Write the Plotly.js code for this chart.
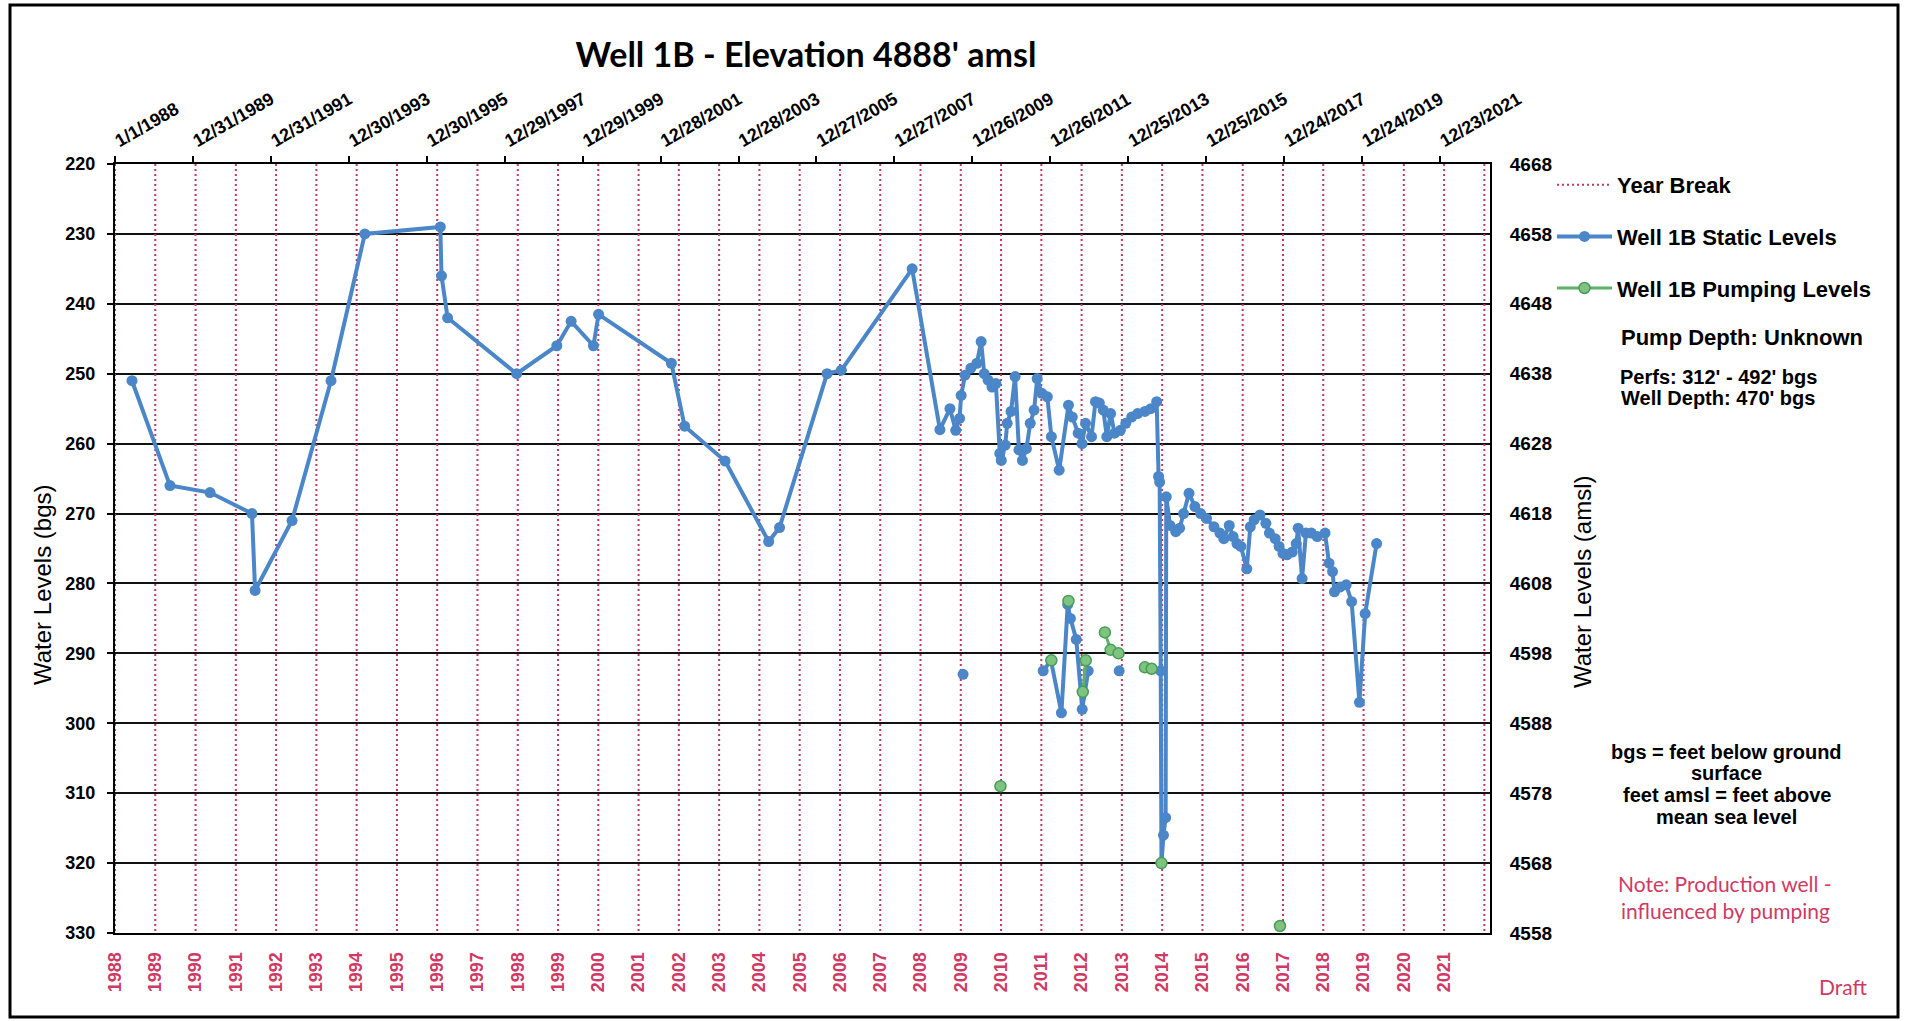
<!DOCTYPE html>
<html><head><meta charset="utf-8">
<script src="https://cdn.plot.ly/plotly-3.0.1.min.js"></script>
<style>html,body{margin:0;padding:0;background:#fff}#chart{width:1907px;height:1021px}</style>
</head><body><div id="chart"></div>
<script>
// ---------------- data ----------------
const wellElevation = 4888;            // ft amsl
const depthRange = [330, 220];         // ft bgs (bottom, top)
const yearBreaks = [1988,1989,1990,1991,1992,1993,1994,1995,1996,1997,1998,1999,2000,2001,2002,2003,2004,2005,2006,2007,2008,2009,2010,2011,2012,2013,2014,2015,2016,2017,2018,2019,2020,2021,2022];
const yearLabels = [1988,1989,1990,1991,1992,1993,1994,1995,1996,1997,1998,1999,2000,2001,2002,2003,2004,2005,2006,2007,2008,2009,2010,2011,2012,2013,2014,2015,2016,2017,2018,2019,2020,2021];

const staticDates = [
 '1988-06-08','1989-05-30','1990-06-09','1991-07-07','1991-08-05','1992-07-16','1993-07-16','1994-05-29',
 '1996-05-05','1996-05-16','1996-07-12','1998-04-20','1999-05-01','1999-09-12','2000-04-08','2000-05-26',
 '2002-04-08','2002-08-10','2003-08-24','2004-10-05','2005-01-15','2006-04-05','2006-08-17','2008-06-10',
 '2009-02-25',
 '2009-05-30','2009-07-23','2009-08-28','2009-09-12','2009-10-18','2009-12-12','2010-02-06','2010-03-18',
 '2010-04-16','2010-05-22','2010-06-28','2010-08-03','2010-09-09','2010-09-23','2010-10-30','2010-11-17',
 '2010-12-23','2011-01-30','2011-03-07','2011-04-09','2011-05-16','2011-06-21','2011-07-27','2011-08-25',
 '2011-10-08','2011-11-28','2012-01-05','2012-03-18','2012-06-13','2012-07-19','2012-09-12','2012-10-18',
 '2012-11-20','2013-01-15','2013-02-21','2013-03-29','2013-05-05','2013-06-07','2013-07-13','2013-08-19',
 '2013-10-12','2013-12-02','2014-01-26','2014-03-22','2014-05-30','2014-07-24','2014-09-17','2014-10-05',
 '2014-10-15','2014-10-25','2014-11-01','2014-11-20','2014-12-10','2014-12-16','2015-01-20','2015-03-15',
 '2015-04-20','2015-05-27','2015-07-17','2015-09-10','2015-11-03','2015-12-28','2016-03-07','2016-05-01',
 '2016-06-07','2016-07-28','2016-09-02','2016-10-08','2016-11-14','2017-01-08','2017-02-10','2017-03-18',
 '2017-05-12','2017-07-06','2017-08-08','2017-10-01','2017-11-07','2017-12-13','2018-01-19','2018-03-10',
 '2018-04-16','2018-05-04','2018-06-10','2018-07-16','2018-09-05','2018-10-30','2019-01-11','2019-02-17',
 '2019-03-22','2019-04-09','2019-06-03','2019-07-28','2019-09-17','2019-11-29','2020-01-22','2020-05-08',
 null,
 '2009-09-30',
 null,
 '2011-10-20','2012-01-01','2012-04-08','2012-06-06','2012-07-01','2012-08-25','2012-10-20','2012-12-15',
 null,
 '2013-10-01'
];
const staticLevels = [
 251,266,267,270,281,271,251,230,
 229,236,242,250,246,242.5,246,241.5,
 248.5,257.5,262.5,274,272,250,249.5,235,
 258,
 255,258.1,256.4,253.1,250.2,249.2,248.5,245.4,
 250,250.9,251.9,251.4,261.4,262.4,260.2,257.1,
 255.4,250.4,260.9,262.4,260.7,257.1,255.2,250.7,
 252.8,253.3,259,263.8,254.5,256.2,258.5,260,
 257.1,259,254,254.2,255.2,259,255.7,258.5,
 258.1,257.1,256.2,255.7,255.4,255,254,264.7,
 265.5,292.5,320,316,313.5,267.6,271.7,272.6,
 272.1,270,267.1,269,270,270.7,271.9,272.8,
 273.6,271.7,273.3,274.3,274.7,277.9,271.9,270.9,
 270.2,271.4,272.8,273.6,274.7,275.7,275.9,275.5,
 274.3,272.1,279.3,272.8,272.8,273.3,272.8,277.1,
 278.3,281.2,280.5,280.2,282.6,297,284.3,274.3,
 null,
 293,
 null,
 292.5,291,298.5,283,285,288,298,292.5,
 null,
 292.5
];

const pumpDates = [
 '2010-09-15', null, '2012-01-05', null, '2012-06-13', null, '2012-10-25','2012-11-22', null,
 '2013-05-20','2013-07-13','2013-09-25', null, '2014-05-30','2014-08-01', null, '2014-11-01', null, '2017-11-15'
];
const pumpLevels = [
 309, null, 291, null, 282.5, null, 295.5, 291, null,
 287, 289.5, 290, null, 292, 292.2, null, 320, null, 329
];

const topTickStart = '1988-01-01';
const topTickDays = 730;
const dateRange = ['1988-01-01', '2023-04-05'];
const yearRange = [1988, 2022.14];

// ---------------- layout helpers ----------------
const L = 115, R = 1490, T = 164, B = 933;
const px = x => (x - L) / (R - L);
const py = y => (B - y) / (B - T);
const ARIAL = 'Liberation Sans, Arial, sans-serif';
const CAL = 'Lato, Carlito, sans-serif';
const PINK = '#cf3a64';

const amslTop = wellElevation - depthRange[1];
const amslBottom = wellElevation - depthRange[0];

const data = [
  {
    type: 'scatter', mode: 'lines', name: 'Year Break',
    x: yearBreaks.flatMap(v => [v, v, null]),
    y: yearBreaks.flatMap(() => [amslTop, amslBottom, null]),
    xaxis: 'x', yaxis: 'y',
    line: {color: '#c0395e', width: 2, dash: '2px,3px'},
    legendgroup: 'a', hoverinfo: 'skip'
  },
  {
    type: 'scatter', mode: 'lines+markers', name: 'Well 1B Static Levels',
    x: staticDates, y: staticLevels, xaxis: 'x2', yaxis: 'y2',
    line: {color: '#4a86c8', width: 4},
    marker: {size: 11, color: '#4a86c8'},
    connectgaps: false, legendgroup: 'b'
  },
  {
    type: 'scatter', mode: 'lines+markers', name: 'Well 1B Pumping Levels',
    x: pumpDates, y: pumpLevels, xaxis: 'x2', yaxis: 'y2',
    line: {color: '#5cb366', width: 3},
    marker: {size: 11, color: '#7cc47f', line: {color: '#4a9c58', width: 1.5}},
    connectgaps: false, legendgroup: 'c'
  }
];

function ann(text, x, y, size, opts) {
  return Object.assign({
    text, x: px(x), y: py(y), xref: 'paper', yref: 'paper',
    xanchor: 'center', yanchor: 'middle', showarrow: false,
    font: {family: ARIAL, size, color: '#000', weight: 'bold'}
  }, opts || {});
}

const annotations = [
  ann('Pump Depth: Unknown', 1742, 337, 22),
  ann("Perfs: 312' - 492' bgs", 1718, 377, 20),
  ann("Well Depth: 470' bgs", 1718, 398, 20),
  ann('bgs = feet below ground', 1727, 752, 20),
  ann('surface', 1727, 773, 20),
  ann('feet amsl = feet above', 1727, 795, 20),
  ann('mean sea level', 1727, 817, 20),
  ann('Note: Production well -', 1725, 883, 21, {font: {family: CAL, size: 21, color: PINK}}),
  ann('influenced by pumping', 1725, 910, 21, {font: {family: CAL, size: 21, color: PINK}}),
  ann('Draft', 1843, 987, 21, {font: {family: CAL, size: 21, color: PINK}}),
  ann('Water Levels (bgs)', 42, 585, 24, {textangle: -90, font: {family: ARIAL, size: 24, color: '#000'}}),
  ann('Water Levels (amsl)', 1582, 582, 24, {textangle: -90, font: {family: ARIAL, size: 24, color: '#000'}})
];

const layout = {
  width: 1907, height: 1021,
  margin: {l: L, r: 1907 - R, t: T, b: 1021 - B, pad: 0},
  paper_bgcolor: '#fff', plot_bgcolor: '#fff',
  showlegend: true, hovermode: false,
  title: {
    text: "Well 1B - Elevation 4888' amsl",
    x: 806 / 1907, xref: 'container', xanchor: 'center',
    y: 1 - 55 / 1021, yref: 'container', yanchor: 'middle',
    font: {family: CAL, size: 34, color: '#000', weight: 'bold'}
  },
  // base subplot: year breaks (bottom year labels, right amsl axis)
  xaxis: {
    type: 'linear', side: 'bottom', anchor: 'y',
    range: yearRange, tickmode: 'array',
    tickvals: yearLabels, ticktext: yearLabels.map(String),
    tickangle: -90, ticks: '', ticklabelstandoff: 10,
    showgrid: false, zeroline: false,
    showline: true, linecolor: '#000', linewidth: 2,
    tickfont: {family: ARIAL, size: 18, color: PINK, weight: 'bold'}
  },
  yaxis: {
    side: 'right', anchor: 'x',
    range: [amslBottom, amslTop], tick0: amslBottom, dtick: 10,
    ticks: '', ticklabelstandoff: 14,
    showgrid: false, zeroline: false,
    showline: true, linecolor: '#000', linewidth: 2,
    tickfont: {family: ARIAL, size: 19, color: '#000', weight: 'bold'}
  },
  // overlay subplot: measured levels (top date axis, left bgs axis)
  xaxis2: {
    type: 'date', side: 'top', overlaying: 'x', anchor: 'y2', range: dateRange,
    tick0: topTickStart, dtick: topTickDays * 86400000,
    tickformat: '%-m/%-d/%Y', tickangle: -30,
    ticks: 'outside', ticklen: 6, tickwidth: 2, tickcolor: '#000',
    showgrid: false, zeroline: false,
    showline: true, linecolor: '#000', linewidth: 2,
    tickfont: {family: ARIAL, size: 18, color: '#000', weight: 'bold'}
  },
  yaxis2: {
    side: 'left', overlaying: 'y', anchor: 'x2',
    range: depthRange, tick0: 220, dtick: 10,
    ticks: 'outside', ticklen: 6, tickwidth: 2, tickcolor: '#000',
    ticklabelstandoff: 8,
    showgrid: true, gridcolor: '#111', gridwidth: 2,
    zeroline: false, showline: true, linecolor: '#000', linewidth: 2,
    tickfont: {family: ARIAL, size: 18, color: '#000', weight: 'bold'}
  },
  legend: {
    x: px(1552), y: py(164), xanchor: 'left', yanchor: 'top',
    traceorder: 'grouped', tracegroupgap: 20, itemwidth: 55,
    bgcolor: 'rgba(0,0,0,0)',
    font: {family: ARIAL, size: 22, color: '#000', weight: 'bold'}
  },
  shapes: [{
    type: 'rect', xref: 'paper', yref: 'paper',
    x0: px(10), x1: px(1898), y0: py(1017), y1: py(5),
    line: {color: '#000', width: 3}, fillcolor: 'rgba(0,0,0,0)', layer: 'above'
  }],
  annotations
};

Plotly.newPlot('chart', data, layout, {displayModeBar: false, staticPlot: true});
</script>
</body></html>
